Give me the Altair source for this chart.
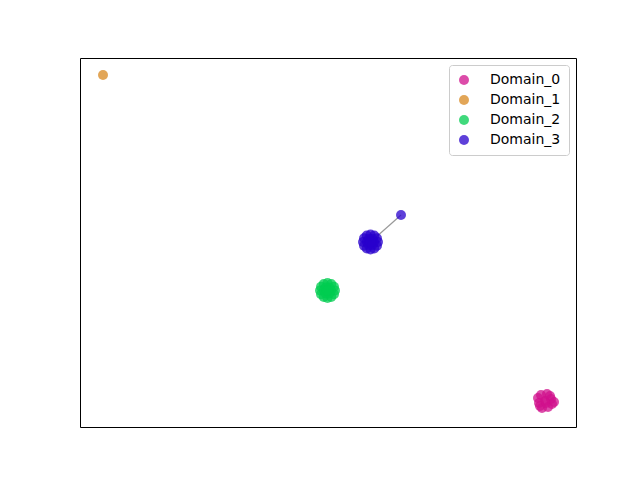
import altair as alt
import pandas as pd

domains = ["Domain_0", "Domain_1", "Domain_2", "Domain_3"]
colors = ["#d0108c", "#d88820", "#00cc50", "#2800cc"]

d0_x = [465, 471, 459, 468, 461, 472, 458, 467, 462, 470, 460, 466, 474]
d0_y = [26, 28, 24, 20, 32, 23, 29, 33, 19, 31, 21, 24, 25]
d1_x = [23]
d1_y = [352]
d2_x = [255, 254, 251.25, 247.5, 243.75, 241, 240, 241, 243.75, 247.5, 251.25, 254,
        251, 249.25, 245.75, 244, 245.75, 249.25, 247.5]
d2_y = [136.5, 140.25, 143, 144, 143, 140.25, 136.5, 132.75, 130, 129, 130, 132.75,
        136.5, 139.5, 139.5, 136.5, 133.5, 133.5, 136.5]
d3_x = [298, 297, 294.25, 290.5, 286.75, 284, 283, 284, 286.75, 290.5, 294.25, 297,
        294, 292.25, 288.75, 287, 288.75, 292.25, 290.5, 321]
d3_y = [185, 188.75, 191.5, 192.5, 191.5, 188.75, 185, 181.25, 178.5, 177.5, 178.5, 181.25,
        185, 188, 188, 185, 182, 182, 185, 212]

link_x = [290.5, 321]
link_y = [185, 212]

rows = []
for name, xs, ys in [("Domain_0", d0_x, d0_y), ("Domain_1", d1_x, d1_y),
                     ("Domain_2", d2_x, d2_y), ("Domain_3", d3_x, d3_y)]:
    for x, y in zip(xs, ys):
        rows.append({"x": x, "y": y, "domain": name})
pts = pd.DataFrame(rows)
link = pd.DataFrame({"x": link_x, "y": link_y, "order": [0, 1]})

xs = alt.Scale(domain=[0, 496], nice=False, zero=False)
ys = alt.Scale(domain=[0, 369], nice=False, zero=False)

line = alt.Chart(link).mark_line(color="#999999", strokeWidth=1.2).encode(
    x=alt.X("x:Q", scale=xs, axis=None),
    y=alt.Y("y:Q", scale=ys, axis=None),
    order="order:Q",
)

points = alt.Chart(pts).mark_circle(size=100, opacity=0.75).encode(
    x=alt.X("x:Q", scale=xs, axis=None),
    y=alt.Y("y:Q", scale=ys, axis=None),
    color=alt.Color(
        "domain:N",
        scale=alt.Scale(domain=domains, range=colors),
        legend=alt.Legend(
            title=None,
            orient="none",
            legendX=369,
            legendY=7,
            padding=8,
            cornerRadius=3,
            strokeColor="#cccccc",
            fillColor="white",
            symbolSize=100,
            symbolOpacity=0.75,
            symbolType="circle",
            labelFontSize=14,
            labelFont="DejaVu Sans",
            labelColor="black",
            labelOffset=19,
            rowPadding=6,
        ),
    ),
)

chart = (
    alt.layer(line, points)
    .properties(width=496, height=369, padding={"left": 72, "top": 50, "right": 10, "bottom": 10})
    .configure_view(stroke="black", strokeWidth=1)
)

chart.save("out.html", embed_options={"renderer": "svg", "actions": False})
